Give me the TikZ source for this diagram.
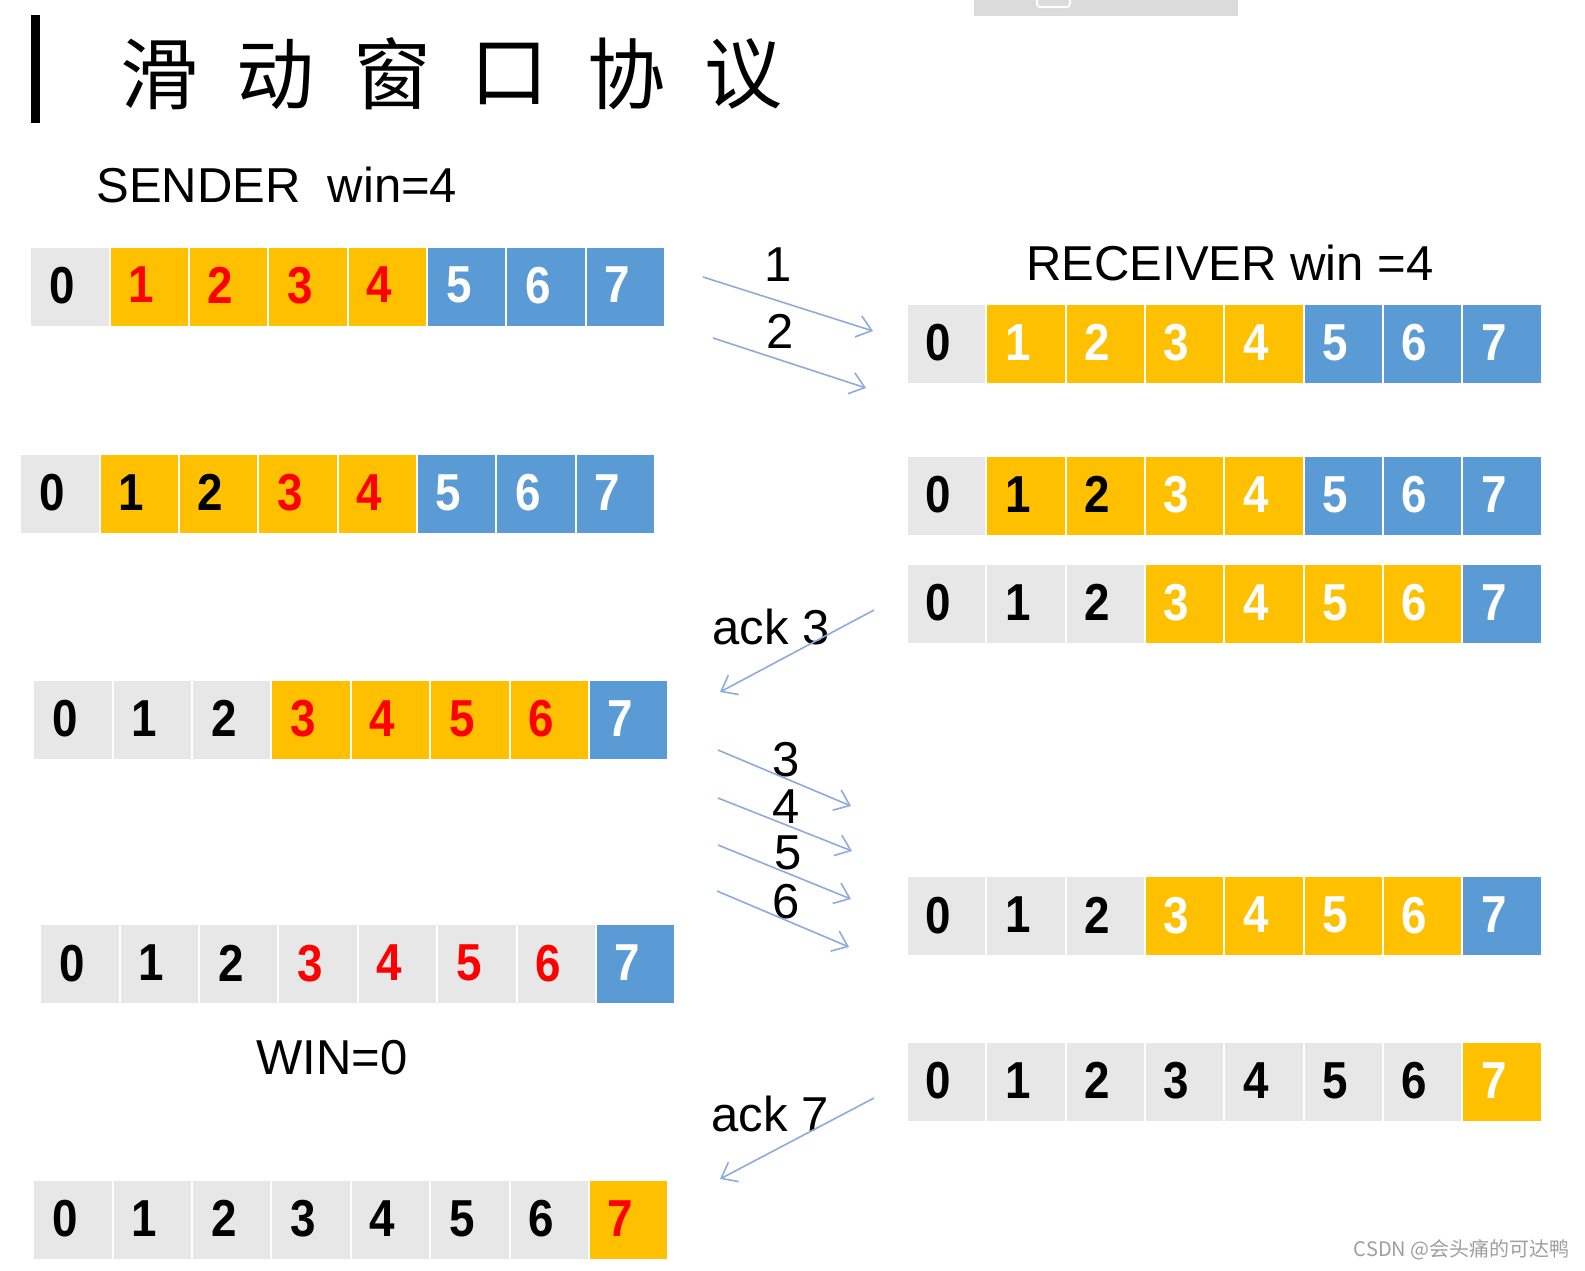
\documentclass[tikz,border=0pt]{standalone}
\usepackage{fontspec}
\setmainfont{Liberation Sans}
\newfontfamily\cjk{Noto Sans CJK SC}
\newfontfamily\digitfont[FakeStretch=0.88]{Liberation Sans}
\usetikzlibrary{arrows.meta}
\definecolor{cgray}{RGB}{231,231,231}
\definecolor{corange}{RGB}{255,192,0}
\definecolor{cblue}{RGB}{91,155,213}
\definecolor{cred}{RGB}{255,0,0}
\definecolor{carrow}{RGB}{143,170,220}
\newcommand\cellrow[4]{%
  \foreach \f/\t [count=\k from 0] in {#4} {
    \node[cellbox, fill=\f, text=\t] (#1-\k) at ({#2+(\k+0.5)*79.36},{#3}) {\raisebox{1.5pt}{\k}\rule{8pt}{0pt}};
  }}
\begin{document}
\begin{tikzpicture}[x=0.5pt,y=-0.5pt,
  cellbox/.style={draw=white, line width=1pt, minimum width=39.68pt, minimum height=40pt, inner sep=0pt,
    font=\digitfont\bfseries\fontsize{26}{26}\selectfont},
  lbl/.style={inner sep=0pt, font=\fontsize{24.5}{24.5}\selectfont},
  msg/.style={draw=carrow, line width=0.8pt, -{Straight Barb[length=7pt,width=11pt]}},
]
\useasboundingbox (0,0) rectangle (1585,1270);
\fill[white] (0,0) rectangle (1585,1270);
% top bar artifact
\fill[gray!28] (974,0) rectangle (1238,16);
\draw[white, line width=1pt, rounded corners=1.5pt] (1037,-3) rectangle (1070,7);
% title
\fill[black] (31,15) rectangle (39.5,123);
\foreach \c [count=\k from 0] in {滑,动,窗,口,协,议}
  \node[font=\cjk\fontsize{39}{39}\selectfont, inner sep=0pt] (t\k) at ({159+\k*116.8},74) {\c};
% labels
\node[lbl, anchor=west] (sender) at (96,185) {SENDER\ \ win=4};
\node[lbl, anchor=west] (receiver) at (1026,263) {RECEIVER win =4};
\node[lbl] (win0) at (332,1058) {WIN=0};
% sender rows
\cellrow{s1}{30.3}{286.6}{cgray/black,corange/cred,corange/cred,corange/cred,corange/cred,cblue/white,cblue/white,cblue/white}
\cellrow{s2}{20.2}{493.8}{cgray/black,corange/black,corange/black,corange/cred,corange/cred,cblue/white,cblue/white,cblue/white}
\cellrow{s3}{33.4}{720.2}{cgray/black,cgray/black,cgray/black,corange/cred,corange/cred,corange/cred,corange/cred,cblue/white}
\cellrow{s4}{40.4}{964.4}{cgray/black,cgray/black,cgray/black,cgray/cred,cgray/cred,cgray/cred,cgray/cred,cblue/white}
\cellrow{s5}{33.4}{1220.2}{cgray/black,cgray/black,cgray/black,cgray/black,cgray/black,cgray/black,cgray/black,corange/cred}
% receiver rows
\cellrow{r1}{906.8}{343.7}{cgray/black,corange/white,corange/white,corange/white,corange/white,cblue/white,cblue/white,cblue/white}
\cellrow{r2}{906.8}{495.8}{cgray/black,corange/black,corange/black,corange/white,corange/white,cblue/white,cblue/white,cblue/white}
\cellrow{r3}{906.8}{604}{cgray/black,cgray/black,cgray/black,corange/white,corange/white,corange/white,corange/white,cblue/white}
\cellrow{r4}{906.8}{916.4}{cgray/black,cgray/black,cgray/black,corange/white,corange/white,corange/white,corange/white,cblue/white}
\cellrow{r5}{906.8}{1082.2}{cgray/black,cgray/black,cgray/black,cgray/black,cgray/black,cgray/black,cgray/black,corange/white}
% arrow labels
\node[lbl] (l1) at (778,265) {1};
\node[lbl] (l2) at (780,331) {2};
\node[lbl] (lack3) at (771,627) {ack 3};
\node[lbl] (l3) at (786,760) {3};
\node[lbl] (l4) at (786,807) {4};
\node[lbl] (l5) at (788,853) {5};
\node[lbl] (l6) at (786,902) {6};
\node[lbl] (lack7) at (770,1114) {ack 7};
% arrows
\coordinate (a1s) at (703,277); \coordinate (a1e) at (873,331);
\coordinate (a2s) at (713,338); \coordinate (a2e) at (866,388);
\coordinate (k3s) at (874,610); \coordinate (k3e) at (720,692);
\coordinate (a3s) at (718,750); \coordinate (a3e) at (851,806);
\coordinate (a4s) at (718,798); \coordinate (a4e) at (852,851);
\coordinate (a5s) at (718,845); \coordinate (a5e) at (851,899);
\coordinate (a6s) at (717,891); \coordinate (a6e) at (849,947);
\coordinate (k7s) at (874,1098); \coordinate (k7e) at (720,1179);
\foreach \p in {a1,a2,k3,a3,a4,a5,a6,k7}
  \draw[msg] (\p s) -- (\p e);
% watermark
\node[font=\cjk\fontsize{10}{10}\selectfont, text=gray!75, anchor=east, inner sep=0pt] (wm) at (1570,1250) {CSDN @会头痛的可达鸭};
\end{tikzpicture}
\end{document}
